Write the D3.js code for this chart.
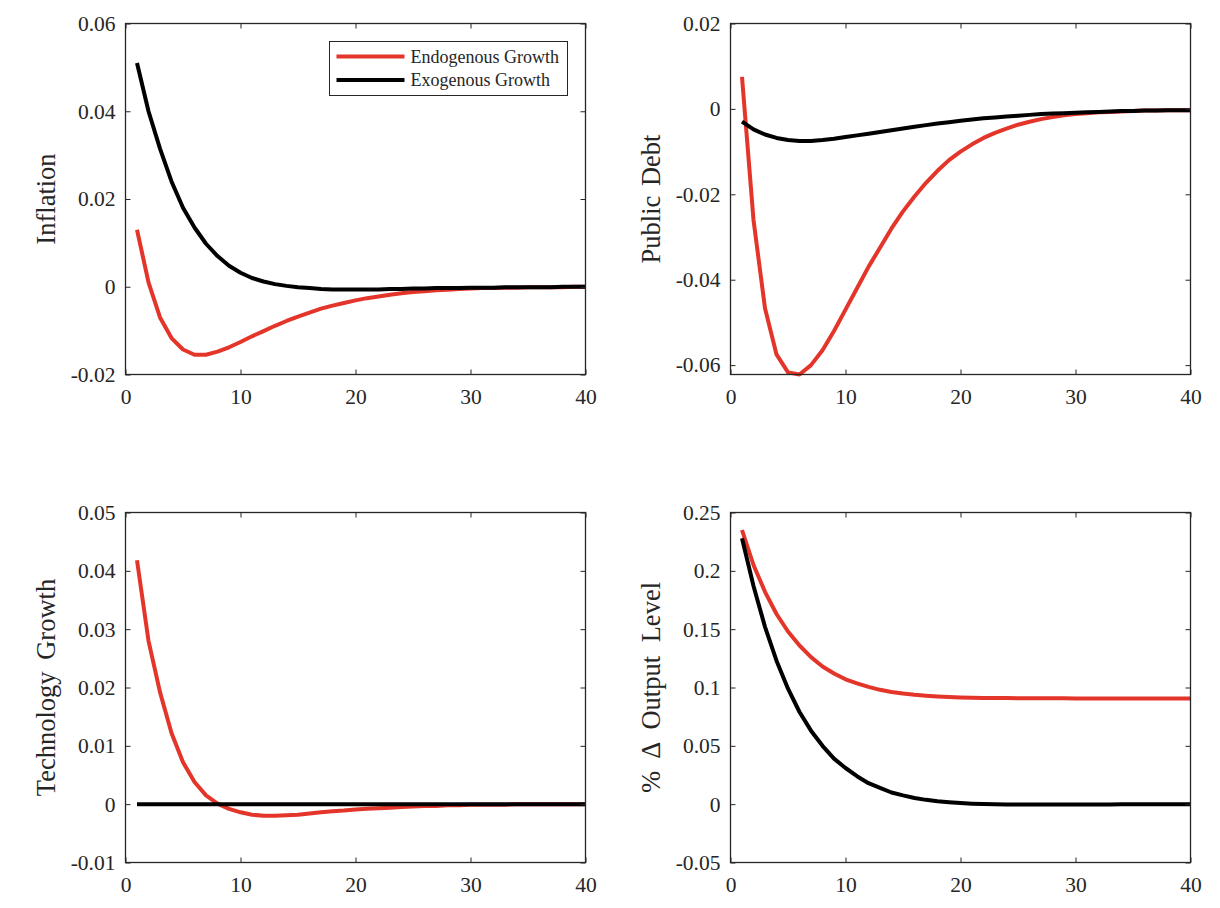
<!DOCTYPE html>
<html>
<head>
<meta charset="utf-8">
<script src="https://cdn.jsdelivr.net/npm/d3@7"></script>
<style>
  body { margin: 0; background: #fff; }
  svg { display: block; }
  svg text { font-family: "Liberation Serif", "Times New Roman", serif !important; fill: #262626; }
</style>
</head>
<body>
<svg id="chart" width="1220" height="908"></svg>
<script>
// ---- Data ----
const periods = d3.range(1, 41);
const seriesNames = ["Endogenous Growth", "Exogenous Growth"];

const inflationEndo = [0.0130, 0.0010, -0.0070, -0.0117, -0.0143, -0.0155, -0.0155, -0.0148, -0.0138, -0.0126,
  -0.0113, -0.0101, -0.0089, -0.0078, -0.0068, -0.0059, -0.0050, -0.0043, -0.0037, -0.0031,
  -0.0026, -0.0022, -0.0018, -0.0015, -0.0012, -0.0010, -0.0008, -0.0007, -0.0005, -0.0004,
  -0.0003, -0.0003, -0.0002, -0.0002, -0.0001, -0.0001, -0.0001, -0.0001, 0.0000, 0.0000];
const inflationExo = [0.0510, 0.0400, 0.0315, 0.0240, 0.0180, 0.0135, 0.0098, 0.0070, 0.0048, 0.0032,
  0.0020, 0.0012, 0.0006, 0.0002, -0.0001, -0.0003, -0.0005, -0.0006, -0.0006, -0.0006,
  -0.0006, -0.0006, -0.0005, -0.0005, -0.0004, -0.0004, -0.0003, -0.0003, -0.0003, -0.0002,
  -0.0002, -0.0002, -0.0001, -0.0001, -0.0001, -0.0001, -0.0001, 0.0000, 0.0000, 0.0000];

const debtEndo = [0.0075, -0.0260, -0.0467, -0.0575, -0.0617, -0.0622, -0.0600, -0.0565, -0.0520, -0.0470,
  -0.0420, -0.0370, -0.0325, -0.0280, -0.0240, -0.0205, -0.0173, -0.0145, -0.0120, -0.0100,
  -0.0083, -0.0068, -0.0056, -0.0046, -0.0037, -0.0030, -0.0024, -0.0019, -0.0015, -0.0012,
  -0.0010, -0.0008, -0.0007, -0.0006, -0.0005, -0.0004, -0.0004, -0.0003, -0.0003, -0.0003];
const debtExo = [-0.0030, -0.0048, -0.0060, -0.0068, -0.0073, -0.0075, -0.0075, -0.0073, -0.0070, -0.0066,
  -0.0062, -0.0058, -0.0054, -0.0050, -0.0046, -0.0042, -0.0038, -0.0034, -0.0031, -0.0028,
  -0.0025, -0.0022, -0.0020, -0.0018, -0.0016, -0.0014, -0.0012, -0.0011, -0.0010, -0.0009,
  -0.0008, -0.0007, -0.0006, -0.0005, -0.0005, -0.0004, -0.0004, -0.0003, -0.0003, -0.0003];

const techEndo = [0.0418, 0.0280, 0.0192, 0.0122, 0.0072, 0.0038, 0.0015, 0.0001, -0.0008, -0.0014,
  -0.0018, -0.0020, -0.0020, -0.0019, -0.0018, -0.0016, -0.0014, -0.0012, -0.0011, -0.0009,
  -0.0008, -0.0007, -0.0006, -0.0005, -0.0004, -0.0003, -0.0003, -0.0002, -0.0002, -0.0001,
  -0.0001, -0.0001, -0.0001, 0.0000, 0.0000, 0.0000, 0.0000, 0.0000, 0.0000, 0.0000];
const techExo = [0, 0, 0, 0, 0, 0, 0, 0, 0, 0, 0, 0, 0, 0, 0, 0, 0, 0, 0, 0,
  0, 0, 0, 0, 0, 0, 0, 0, 0, 0, 0, 0, 0, 0, 0, 0, 0, 0, 0, 0];

const outputEndo = [0.2350, 0.2050, 0.1820, 0.1630, 0.1480, 0.1360, 0.1260, 0.1180, 0.1120, 0.1070,
  0.1035, 0.1005, 0.0980, 0.0962, 0.0948, 0.0937, 0.0929, 0.0923, 0.0918, 0.0915,
  0.0913, 0.0911, 0.0910, 0.0909, 0.0908, 0.0908, 0.0907, 0.0907, 0.0907, 0.0906,
  0.0906, 0.0906, 0.0906, 0.0906, 0.0905, 0.0905, 0.0905, 0.0905, 0.0905, 0.0905];
const outputExo = [0.2280, 0.1870, 0.1520, 0.1230, 0.0990, 0.0790, 0.0630, 0.0500, 0.0390, 0.0310,
  0.0240, 0.0180, 0.0140, 0.0100, 0.0075, 0.0053, 0.0037, 0.0025, 0.0016, 0.0009,
  0.0004, 0.0001, -0.0001, -0.0002, -0.0003, -0.0003, -0.0003, -0.0003, -0.0003, -0.0002,
  -0.0002, -0.0002, -0.0002, -0.0001, -0.0001, -0.0001, -0.0001, -0.0001, -0.0001, -0.0001];

const xTicks = [0, 10, 20, 30, 40];
const inflationTicks = [-0.02, 0, 0.02, 0.04, 0.06];
const debtTicks = [-0.06, -0.04, -0.02, 0, 0.02];
const techTicks = [-0.01, 0, 0.01, 0.02, 0.03, 0.04, 0.05];
const outputTicks = [-0.05, 0, 0.05, 0.1, 0.15, 0.2, 0.25];

const panels = [
  { title: "Inflation", endo: inflationEndo, exo: inflationExo, yDomain: [-0.02, 0.06], yTicks: inflationTicks, legend: true, ws: 3 },
  { title: "Public Debt", endo: debtEndo, exo: debtExo, yDomain: [-0.0622, 0.02], yTicks: debtTicks, ws: 3 },
  { title: "Technology Growth", endo: techEndo, exo: techExo, yDomain: [-0.01, 0.05], yTicks: techTicks, ws: 5 },
  { title: "% \u0394 Output Level", endo: outputEndo, exo: outputExo, yDomain: [-0.05, 0.25], yTicks: outputTicks, ws: 7 }
];

// ---- Layout ----
const RED = "#e4352a";
const BLACK = "#000000";
const AXIS = "#262626";
const FONT = "'Liberation Serif', 'Times New Roman', serif";
const boxes = [
  { x0: 125.5, x1: 585.5, y0: 23.5, y1: 374.5 },
  { x0: 730.5, x1: 1190.5, y0: 23.5, y1: 374.5 },
  { x0: 125.5, x1: 585.5, y0: 512.5, y1: 862.5 },
  { x0: 730.5, x1: 1190.5, y0: 512.5, y1: 862.5 }
];

const svg = d3.select("#chart");
const fmt = v => {
  if (v === 0) return "0";
  return String(+v.toFixed(4));
};

panels.forEach((p, i) => {
  const b = boxes[i];
  const x = d3.scaleLinear().domain([0, 40]).range([b.x0, b.x1]);
  const y = d3.scaleLinear().domain(p.yDomain).range([b.y1, b.y0]);
  const g = svg.append("g");

  // lines
  const line = d3.line().x((d, k) => x(periods[k])).y(d => y(d));
  g.append("path").datum(p.endo).attr("d", line)
    .attr("fill", "none").attr("stroke", RED).attr("stroke-width", 4).attr("stroke-linejoin", "round");
  g.append("path").datum(p.exo).attr("d", line)
    .attr("fill", "none").attr("stroke", BLACK).attr("stroke-width", 4).attr("stroke-linejoin", "round");

  // axes (inward ticks, box)
  const tickLen = 5;
  const axB = g.append("g").attr("transform", `translate(0,${b.y1})`)
    .call(d3.axisBottom(x).tickValues(xTicks).tickSizeInner(-tickLen).tickSizeOuter(0).tickPadding(14).tickFormat(d3.format("d")));
  const axT = g.append("g").attr("transform", `translate(0,${b.y0})`)
    .call(d3.axisTop(x).tickValues(xTicks).tickSizeInner(-tickLen).tickSizeOuter(0).tickFormat(""));
  const axL = g.append("g").attr("transform", `translate(${b.x0},0)`)
    .call(d3.axisLeft(y).tickValues(p.yTicks).tickSizeInner(-tickLen).tickSizeOuter(0).tickPadding(10).tickFormat(fmt));
  const axR = g.append("g").attr("transform", `translate(${b.x1},0)`)
    .call(d3.axisRight(y).tickValues(p.yTicks).tickSizeInner(-tickLen).tickSizeOuter(0).tickFormat(""));
  [axB, axT, axL, axR].forEach(a => {
    a.attr("font-family", FONT);
    a.select(".domain").remove();
    a.selectAll("line").attr("stroke", AXIS).attr("stroke-width", 1);
    a.selectAll("text").style("font-size", "21.5px").style("font-family", FONT).attr("fill", AXIS);
  });
  axB.selectAll("text").attr("dy", "0.71em").attr("y", 14);

  g.append("rect").attr("x", b.x0).attr("y", b.y0)
    .attr("width", b.x1 - b.x0).attr("height", b.y1 - b.y0)
    .attr("fill", "none").attr("stroke", AXIS).attr("stroke-width", 1.3);

  // y label
  const cy = (b.y0 + b.y1) / 2;
  const lx = b.x0 - 71;
  g.append("text").attr("transform", `translate(${lx},${cy}) rotate(-90)`)
    .attr("text-anchor", "middle").style("font-size", "26.5px").style("font-family", FONT)
    .style("word-spacing", p.ws + "px").text(p.title);

  // legend
  if (p.legend) {
    const L = { x: 329.5, y: 41.5, w: 238, h: 54 };
    const lg = g.append("g");
    lg.append("rect").attr("x", L.x).attr("y", L.y).attr("width", L.w).attr("height", L.h)
      .attr("fill", "#fff").attr("stroke", AXIS).attr("stroke-width", 1);
    const colors = [RED, BLACK];
    seriesNames.forEach((name, k) => {
      const yy = L.y + 15 + k * 23.5;
      lg.append("line").attr("x1", L.x + 7).attr("x2", L.x + 75).attr("y1", yy).attr("y2", yy)
        .attr("stroke", colors[k]).attr("stroke-width", 4);
      lg.append("text").attr("x", L.x + 81).attr("y", yy).attr("dy", "0.35em")
        .style("font-size", "18px").style("font-family", FONT).text(name);
    });
  }
});
</script>
</body>
</html>
